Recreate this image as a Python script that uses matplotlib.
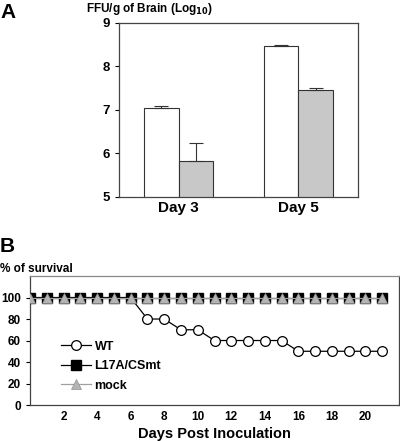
import matplotlib.pyplot as plt
import numpy as np

plt.rcParams["font.family"] = ["Liberation Sans", "DejaVu Sans"]
plt.rcParams["font.weight"] = "bold"

# Panel A data
days_a = ["Day 3", "Day 5"]
wt_titer = [7.04, 8.48]
wt_err = [0.05, 0.02]
mt_titer = [5.82, 7.45]
mt_err = [0.42, 0.06]

# Panel B data
days_b = list(range(0, 22))
wt_surv = [100, 100, 100, 100, 100, 100, 100, 80, 80, 70, 70,
           60, 60, 60, 60, 60, 50, 50, 50, 50, 50, 50]
mt_surv = [100] * 22
mock_surv = [100] * 22

fig = plt.figure(figsize=(4, 4.41), dpi=100)
spine_c = "#444444"

# ---- A ----
ax = fig.add_axes([0.2975, 0.5533, 0.5975, 0.3946])
x = np.arange(len(days_a))
w = 0.29
ax.bar(x - w / 2, wt_titer, w, color="white", edgecolor="#333333", linewidth=0.8)
ax.bar(x + w / 2, mt_titer, w, color="#c8c8c8", edgecolor="#333333", linewidth=0.8)
ax.errorbar(x - w / 2, wt_titer, yerr=[np.zeros(2), wt_err], fmt="none",
            ecolor="#333333", elinewidth=0.8, capsize=5, capthick=0.8)
ax.errorbar(x + w / 2, mt_titer, yerr=[np.zeros(2), mt_err], fmt="none",
            ecolor="#333333", elinewidth=0.8, capsize=5, capthick=0.8)
ax.set_xlim(-0.5, 1.5)
ax.set_ylim(5, 9)
ax.set_yticks([5, 6, 7, 8, 9])
ax.set_xticks(x)
ax.set_xticklabels(days_a, fontsize=11, fontweight="bold")
ax.tick_params(axis="x", length=0, pad=3)
ax.tick_params(axis="y", length=3, direction="out", labelsize=9.5, width=0.8)
for s in ax.spines.values():
    s.set_color(spine_c)
    s.set_linewidth(0.9)
fig.text(0.215, 0.997, "FFU/g of Brain (Log$_{\\mathbf{10}}$)", fontsize=8.5,
         fontweight="bold", va="top", ha="left")
fig.text(0.0, 0.993, "A", fontsize=15, fontweight="bold", va="top", ha="left")

# ---- B ----
bx = fig.add_axes([0.075, 0.0816, 0.9225, 0.2925])
bx.plot(days_b, wt_surv, "-o", color="black", mfc="white", mec="black",
        ms=7, mew=0.9, lw=0.9, label="WT", zorder=2)
bx.plot(days_b, mt_surv, "-s", color="black", mfc="black", mec="black",
        ms=7.6, lw=0.9, label="L17A/CSmt", zorder=3)
bx.plot(days_b, mock_surv, "-^", color="#a0a0a0", mfc="#b4b4b4", mec="#909090",
        ms=6.8, mew=0.5, lw=0.9, label="mock", zorder=4)
bx.set_xlim(0, 22)
bx.set_ylim(0, 120)
bx.set_yticks([0, 20, 40, 60, 80, 100])
bx.set_xticks(range(2, 21, 2))
bx.tick_params(axis="y", length=3, direction="out", labelsize=8.5, width=0.8)
bx.tick_params(axis="x", length=0, labelsize=8.5, pad=4)
for lab in bx.get_xticklabels() + bx.get_yticklabels():
    lab.set_fontweight("bold")
for lab in ax.get_yticklabels():
    lab.set_fontweight("bold")
for s in bx.spines.values():
    s.set_color(spine_c)
    s.set_linewidth(0.9)
bx.spines["top"].set_color("#888888")
bx.set_xlabel("Days Post Inoculation", fontsize=10.5, fontweight="bold", labelpad=3)
bx.legend(loc="lower left", bbox_to_anchor=(0.07, 0.065), frameon=False,
          fontsize=9, handlelength=2.4, handletextpad=0.3, labelspacing=0.6,
          borderaxespad=0)
fig.text(0.0, 0.462, "B", fontsize=15, fontweight="bold", va="top", ha="left")
fig.text(0.0, 0.403, "% of survival", fontsize=8.5, fontweight="bold", va="top",
         ha="left")

fig.savefig("out.png", dpi=100, facecolor="white")
